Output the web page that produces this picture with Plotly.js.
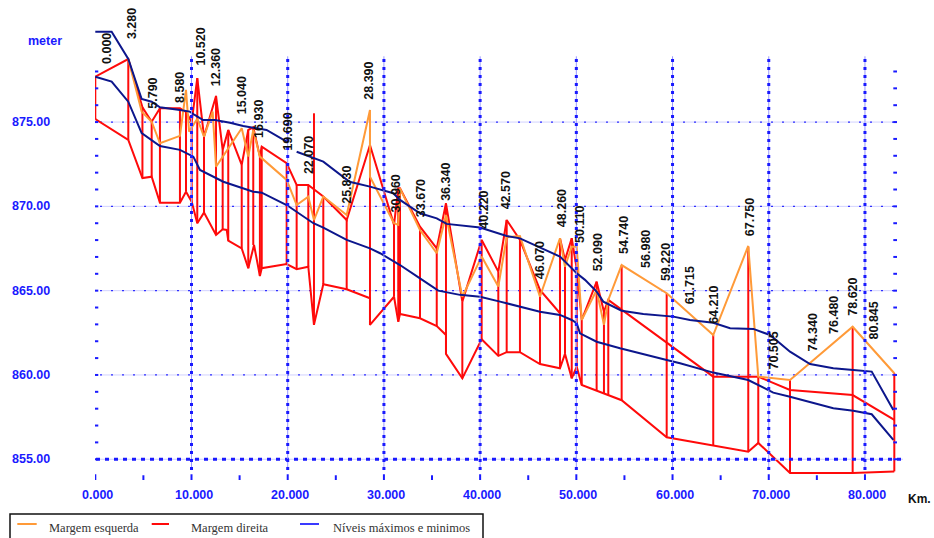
<!DOCTYPE html>
<html>
<head>
<meta charset="utf-8">
<script src="https://cdn.plot.ly/plotly-3.0.1.min.js"></script>
<style>html,body{margin:0;padding:0;background:#fff;}#chart{width:934px;height:538px;}</style>
</head>
<body>
<div id="chart"></div>
<script>
// ---------------- DATA ----------------
// Station labels (km)
const stationKm = [0,3.28,5.79,8.58,10.52,12.36,15.04,16.93,19.69,22.07,25.83,28.39,30.96,33.67,36.34,40.22,42.57,46.07,48.26,50.11,52.09,54.74,56.98,59.22,61.715,64.21,67.75,70.505,74.34,76.48,78.62,80.845];
const stationLabels = ['0.000','3.280','5.790','8.580','10.520','12.360','15.040','16.930','19.690','22.070','25.830','28.390','30.960','33.670','36.340','40.220','42.570','46.070','48.260','50.110','52.090','54.740','56.980','59.220','61.715','64.210','67.750','70.505','74.340','76.480','78.620','80.845'];

// Cross sections (vertical red lines): km, top and bottom elevation
const sectionKm     = [0,3.43,4.9,5.86,6.72,8.80,9.43,10.02,10.6,11.3,12.55,13.24,13.82,15.22,15.9,16.42,17.11,17.3,19.89,20.93,22.14,22.73,23.7,26.13,28.55,31.05,31.49,31.67,33.75,35.49,36.45,38.15,40.16,41.89,42.76,44.14,46.22,48.3,48.82,49.52,50.04,50.56,52.11,52.87,53.32,54.71,59.39,64.23,67.87,68.91,72.21,78.72,83.05];
const sectionTop    = [877.69,878.74,875.88,875.02,875.82,875.82,875.6,875.0,877.6,874.13,876.55,873.35,874.53,872.46,874.53,874.69,872.95,873.54,872.56,871.27,871.27,875.52,870.58,869.19,873.64,868.90,871.07,871.07,868.80,867.51,870.18,864.35,868.01,866.13,869.19,868.01,865.04,868.11,866.82,868.11,866.3,863.26,865.53,863.75,864.45,866.52,864.85,862.37,867.6,859.90,859.70,862.86,860.10];
const sectionBottom = [875.18,873.94,871.68,871.76,870.22,870.22,870.87,870.28,869.0,869.63,868.30,868.64,867.97,867.51,866.33,867.71,865.87,866.33,866.58,866.27,866.42,862.97,865.38,865.08,862.97,864.64,863.16,863.62,863.36,862.9,861.25,859.80,862.12,861.13,861.35,861.35,860.65,860.40,861.25,859.80,860.49,859.41,859.07,858.9,858.8,858.5,856.3,855.8,855.45,855.97,854.19,854.19,854.28];

// Margem direita (upper red line)
const rightKm    = [0,3.43,4.9,5.86,6.72,8.80,9.43,10.02,10.6,11.3,12.55,13.24,13.82,15.22,15.9,16.42,17.11,17.3,19.89,20.93,22.14,23.7,26.13,28.55,31.05,31.49,31.67,33.75,35.49,36.45,38.15,40.16,41.89,42.76,44.14,46.22,48.3,48.3,48.82,49.52,50.04,50.56,52.11,52.87,53.32,64.23,68.91,72.21,78.72,83.05];
const rightLevel = [877.69,878.74,875.88,875.02,875.82,875.82,875.6,875.0,877.6,874.13,876.55,873.35,874.53,872.46,874.53,874.69,872.95,873.54,872.56,871.27,871.27,870.58,869.19,873.64,868.90,871.07,871.07,868.80,867.51,870.18,864.35,868.01,866.13,869.19,868.01,865.04,863.66,868.11,866.82,868.11,866.3,863.26,865.53,863.75,864.45,859.90,859.90,859.11,858.81,857.33];

// Bed (lower red line)
const bedKm    = [0,3.43,4.9,5.86,6.72,8.80,9.43,10.02,10.6,11.3,12.55,13.24,13.66,13.82,15.22,15.9,16.5,17.11,17.3,19.89,20.93,22.14,22.73,23.7,26.13,28.55,28.55,31.05,31.49,31.67,33.75,35.49,36.45,36.45,38.15,40.16,41.89,42.76,44.14,46.22,48.3,48.82,49.52,50.04,50.56,54.71,59.39,64.23,67.87,68.91,72.21,78.72,83.05];
const bedLevel = [875.18,873.94,871.68,871.76,870.22,870.22,870.87,870.28,869.0,869.63,868.30,868.64,868.60,867.97,867.51,866.33,867.71,865.87,866.33,866.58,866.27,866.42,862.97,865.38,865.08,864.55,862.97,864.64,863.16,863.62,863.36,862.9,862.37,861.25,859.80,862.12,861.13,861.35,861.35,860.65,860.40,861.25,859.80,860.49,859.41,858.5,856.3,855.8,855.45,855.97,854.19,854.19,854.28];

// Margem esquerda (orange)
const leftKm    = [3.43,4.82,5.86,6.72,8.80,9.43,9.75,10.6,11.3,12.2,12.55,13.82,15.22,15.9,16.42,17.11,19.89,20.93,22.14,22.73,23.7,26.13,28.55,28.55,31.05,31.49,31.67,33.75,35.49,36.45,38.15,40.16,41.89,42.76,44.14,46.22,48.3,48.82,49.52,50.04,50.56,52.11,52.87,53.32,54.71,59.39,64.23,67.87,68.91,72.21,78.72,83.05];
const leftLevel = [878.74,875.62,875.02,873.74,874.18,876.91,874.43,875.2,874.13,875.62,872.35,873.45,874.63,872.95,874.53,872.95,871.57,870.08,870.58,869.19,870.58,869.49,875.72,871.76,869.0,868.90,871.07,868.60,867.22,869.49,864.64,867.02,865.24,868.17,868.24,864.64,868.11,866.42,867.61,867.61,863.26,865.04,862.97,864.45,866.52,864.85,862.37,867.65,859.90,859.70,862.86,860.10];

// Níveis máximos (upper blue) and mínimos (lower blue)
const maxKm    = [0,1.7,3.43,4.82,5.86,6.72,8.80,9.83,10.33,11.2,12.45,14.0,15.38,17.11,17.8,19.89,null,20.93,22.73,23.7,26.43,28.55,30.97,31.67,33.75,35.49,36.52,39.99,42.76,44.14,48.3,50.04,50.9,52.11,52.8,54.71,56.96,60.08,61.81,64.23,65.98,68.4,70.13,72.21,74.29,76.71,78.79,80.7,82.95];
const maxLevel = [880.36,880.36,878.74,876.37,876.21,875.88,875.72,875.62,875.42,875.12,875.12,874.96,874.77,874.63,874.53,873.84,null,873.24,872.85,872.65,871.46,871.17,870.78,870.38,869.59,869.29,868.96,868.74,868.24,868.1,867.02,866.03,865.64,864.94,864.35,863.81,863.62,863.46,863.26,863.1,862.77,862.73,862.37,861.38,860.65,860.40,860.30,860.20,857.92];
const minKm    = [0,1.7,3.43,4.82,6.72,8.80,10.19,10.88,13.31,16.42,17.3,19.89,22.67,23.7,26.13,28.55,29.6,31.67,33.75,35.65,37.9,39.99,42.07,44.14,46.22,48.3,49.52,50.04,50.38,52.11,54.54,59.39,60.78,64.23,67.87,70.47,72.21,76.71,78.79,80.7,82.95];
const minLevel = [877.69,877.40,876.21,874.34,873.58,873.35,872.95,872.16,871.46,870.87,870.81,870.08,869.0,868.74,868.01,867.51,867.22,866.52,865.73,865.0,864.75,864.64,864.35,864.05,863.75,863.56,863.26,863.07,862.47,861.97,861.58,860.89,860.69,860.14,859.70,858.95,858.71,858.02,857.88,857.67,856.15];

// Axis ticks
const xTickVals = [0,10,20,30,40,50,60,70,80];
const xTickText = ['0.000','10.000','20.000','30.000','40.000','50.000','60.000','70.000','80.000'];
const yTickVals = [855,860,865,870,875];
const yTickText = ['855.00','860.00','865.00','870.00','875.00'];
const legendNames = ['Margem esquerda','Margem direita','Níveis máximos e minimos'];

// ---------------- LAYOUT POSITIONS (not data) ----------------
const labelBottom = [878.49,880.0,875.88,876.21,878.38,877.2,875.52,874.13,873.35,871.98,870.2,876.41,869.69,869.39,870.38,868.72,869.89,865.74,868.80,867.91,866.23,867.22,866.42,865.63,864.25,863.07,868.3,860.40,861.44,862.51,863.56,862.18];
const labelShift  = [11,5,2,2,5,2,2,1,3,1.5,3,1,2.7,1.3,1,1.5,1.3,1.5,2,2,1,1.8,2.7,1,1,1.6,3,0.7,2.2,2.2,1.1,1.2];

const W = 934, H = 538;
const M = {l:95, r:37, t:30, b:58};
const PW = W - M.l - M.r, PH = H - M.t - M.b;
const paperX = px => (px - M.l) / PW;
const paperY = py => (H - M.b - py) / PH;

const RED = '#ff0a0a', ORANGE = '#ff9a38', NAVY = '#0c168c', BLUE = '#1a1aff';

// ---------------- TRACES ----------------
const vx = [], vy = [];
sectionKm.forEach((k, i) => { vx.push(k, k, null); vy.push(sectionTop[i], sectionBottom[i], null); });

const common = {type:'scatter', mode:'lines', hoverinfo:'skip', showlegend:false};
const traces = [
  Object.assign({x:vx, y:vy, line:{color:RED, width:2}}, common),
  Object.assign({x:bedKm, y:bedLevel, line:{color:RED, width:2}}, common),
  Object.assign({x:rightKm, y:rightLevel, line:{color:RED, width:2}}, common),
  Object.assign({x:leftKm, y:leftLevel, line:{color:ORANGE, width:2}}, common),
  Object.assign({x:minKm, y:minLevel, line:{color:NAVY, width:2}}, common),
  Object.assign({x:maxKm, y:maxLevel, line:{color:NAVY, width:2}, connectgaps:false}, common)
];

// ---------------- SHAPES ----------------
const shapes = [];
yTickVals.forEach(v => {
  if (v === 855) return;
  shapes.push({type:'line', xref:'paper', yref:'y', x0:paperX(100), x1:paperX(895), y0:v, y1:v, layer:'below', line:{color:'#d2d2ff', width:1}});
  shapes.push({type:'line', xref:'paper', yref:'y', x0:paperX(100), x1:paperX(895), y0:v, y1:v, layer:'below', line:{color:'#3030ff', width:1.2, dash:'2px,9px'}});
});
// base line at 855
shapes.push({type:'line', xref:'paper', yref:'y', x0:paperX(96), x1:paperX(903), y0:855, y1:855, line:{color:'#ccccff', width:1}});
shapes.push({type:'line', xref:'paper', yref:'y', x0:paperX(96), x1:paperX(903), y0:855, y1:855, line:{color:BLUE, width:3, dash:'4px,5px'}});
// vertical grid lines
xTickVals.forEach(v => {
  if (v === 0) return;
  shapes.push({type:'line', xref:'x', yref:'y', x0:v, x1:v, y0:854.36, y1:878.9, line:{color:'#9999ff', width:1}});
  shapes.push({type:'line', xref:'x', yref:'y', x0:v, x1:v, y0:854.36, y1:878.9, line:{color:BLUE, width:3, dash:'3px,5px'}});
});
// y ticks left & right
for (let v = 855; v <= 878; v++) {
  const major = (v % 5 === 0);
  shapes.push({type:'line', xref:'x', yref:'y', xsizemode:'pixel', xanchor:0, x0:major?-7:-3, x1:3, y0:v, y1:v, line:{color:BLUE, width:2}});
  shapes.push({type:'line', xref:'x', yref:'y', xsizemode:'pixel', xanchor:83.05, x0:-1, x1:7, y0:v, y1:v, line:{color:BLUE, width:2}});
}
// x ticks below
for (let v = 0; v <= 80; v += 5) {
  const major = (v % 10 === 0);
  shapes.push({type:'line', xref:'x', yref:'y', ysizemode:'pixel', yanchor:855, x0:v, x1:v, y0:major?-15:-16, y1:major?-25:-22, line:{color:BLUE, width:2}});
}
// legend box and samples
shapes.push({type:'rect', xref:'paper', yref:'paper', x0:paperX(10), x1:paperX(483), y0:paperY(514), y1:paperY(548), line:{color:'#111', width:1.5}, fillcolor:'rgba(0,0,0,0)'});
const legColors = [ORANGE, RED, '#3a3aff'];
const legLineX = [[17.3,36.7],[151.7,169],[300,319]];
const legTextX = [46.7,189.3,331];
legColors.forEach((c, i) => {
  shapes.push({type:'line', xref:'paper', yref:'paper', x0:paperX(legLineX[i][0]), x1:paperX(legLineX[i][1]), y0:paperY(524), y1:paperY(524), line:{color:c, width:2}});
});

// ---------------- ANNOTATIONS ----------------
const annotations = [];
const axisFont = {family:'Liberation Sans, Arial, sans-serif', size:12.5, color:BLUE, weight:'bold'};
yTickVals.forEach((v, i) => annotations.push({xref:'x', yref:'y', x:0, y:v, xanchor:'right', yanchor:'middle', xshift:-43, text:yTickText[i], showarrow:false, font:axisFont}));
xTickVals.forEach((v, i) => annotations.push({xref:'x', yref:'y', x:v, y:855, xanchor:'center', yanchor:'middle', xshift:2, yshift:-35.4, text:xTickText[i], showarrow:false, font:axisFont}));
annotations.push({xref:'x', yref:'y', x:0, y:879.81, xanchor:'center', yanchor:'middle', xshift:-49.8, text:'meter', showarrow:false, font:axisFont});
annotations.push({xref:'paper', yref:'y', x:1, y:855, xanchor:'right', yanchor:'middle', xshift:34.5, yshift:-39.7, borderpad:0, text:'Km.', showarrow:false, font:{family:'Liberation Sans, Arial, sans-serif', size:12, color:'#111', weight:'bold'}});
stationKm.forEach((k, i) => annotations.push({
  xref:'x', yref:'y', x:k, y:labelBottom[i], xanchor:'center', yanchor:'bottom', xshift:labelShift[i], yshift:-2,
  textangle:-90, text:stationLabels[i], showarrow:false, borderpad:0,
  font:{family:'Liberation Sans, Arial, sans-serif', size:12.5, color:'#111', weight:'bold'}
}));
legendNames.forEach((n, i) => annotations.push({
  xref:'paper', yref:'paper', x:paperX(legTextX[i]), y:paperY(527.5), xanchor:'left', yanchor:'middle',
  text:n, showarrow:false, font:{family:'Liberation Serif, Times New Roman, serif', size:12.5, color:'#333'}
}));

const layout = {
  width:W, height:H, margin:M, paper_bgcolor:'#fff', plot_bgcolor:'#fff', showlegend:false,
  xaxis:{range:[-0.03, 83.33], visible:false, fixedrange:true},
  yaxis:{range:[853.77, 880.46], visible:false, fixedrange:true},
  shapes:shapes, annotations:annotations
};

Plotly.newPlot('chart', traces, layout, {staticPlot:true, displayModeBar:false});
</script>
</body>
</html>
